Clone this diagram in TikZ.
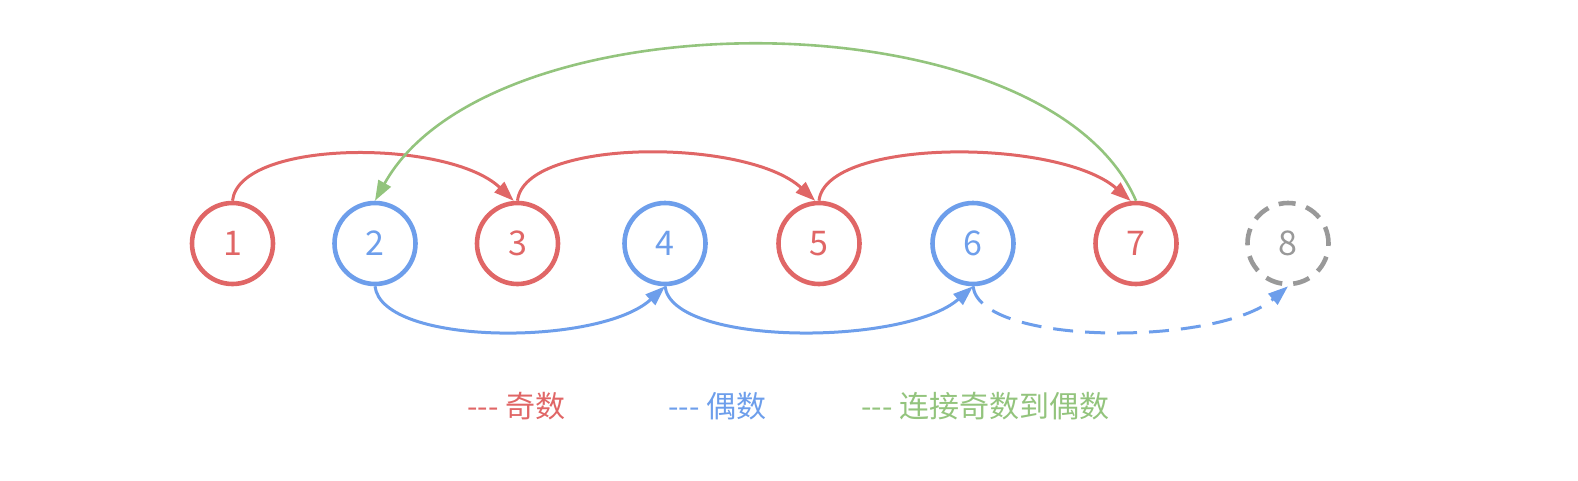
\documentclass[tikz,border=0pt]{standalone}
\usepackage{fontspec}
\setmainfont{Noto Sans CJK SC}
\usetikzlibrary{arrows.meta}

\definecolor{oddred}{HTML}{E06666}
\definecolor{evenblue}{HTML}{6D9EEB}
\definecolor{linkgreen}{HTML}{93C47D}
\definecolor{missgray}{HTML}{999999}

\begin{document}
\begin{tikzpicture}[x=1pt,y=-1pt,->,>={Triangle[length=20pt,width=14pt]},
                    line width=3pt,
                    num node/.style={circle,minimum size=81pt,inner sep=0pt,
                      line width=4.6pt,font=\fontsize{34}{34}\selectfont},
                    legend/.style={anchor=west,inner sep=0pt,
                      font=\fontsize{30}{36}\selectfont}]
  \tikzstyle{odd node}=[num node,draw=oddred,text=oddred]
  \tikzstyle{even node}=[num node,draw=evenblue,text=evenblue]
  \useasboundingbox (0,0) rectangle (1578,480);

  \node[odd node]  (n1) at (232.5,243.5) {1};
  \node[even node] (n2) at (375,243.5)   {2};
  \node[odd node]  (n3) at (517.5,243.5) {3};
  \node[even node] (n4) at (665,243.5)   {4};
  \node[odd node]  (n5) at (819,243.5)   {5};
  \node[even node] (n6) at (973,243.5)   {6};
  \node[odd node]  (n7) at (1136,243.5)  {7};
  \node[num node,draw=missgray,text=missgray,dash pattern=on 17pt off 11pt]
                   (n8) at (1288,243.5)  {8};

  % odd chain
  \draw[oddred] (n1.north) .. controls +(7,-62) and +(-65,-62) .. (n3.95);
  \draw[oddred] (n3.north) .. controls +(7,-63) and +(-68,-63) .. (n5.95);
  \draw[oddred] (n5.north) .. controls +(7,-63) and +(-72,-63) .. (n7.97);
  % even chain
  \draw[evenblue] (n2.south) .. controls +(7,60) and +(-65,60) .. (n4.south);
  \draw[evenblue] (n4.south) .. controls +(7,60) and +(-68,60) .. (n6.south);
  \draw[evenblue,dash pattern=on 20pt off 12pt]
        (n6.south) .. controls +(7,60) and +(-70,60) .. (n8.south);
  % odd to even
  \draw[linkgreen,line width=2.6pt]
        (n7.north) .. controls +(-90,-207) and +(115,-207) .. (n2.north);

  \node[legend,text=oddred]    (lodd)  at (466,406) {-\kern0pt-\kern0pt- 奇数};
  \node[legend,text=evenblue]  (leven) at (667,406) {-\kern0pt-\kern0pt- 偶数};
  \node[legend,text=linkgreen] (llink) at (860,406) {-\kern0pt-\kern0pt- 连接奇数到偶数};
\end{tikzpicture}
\end{document}
